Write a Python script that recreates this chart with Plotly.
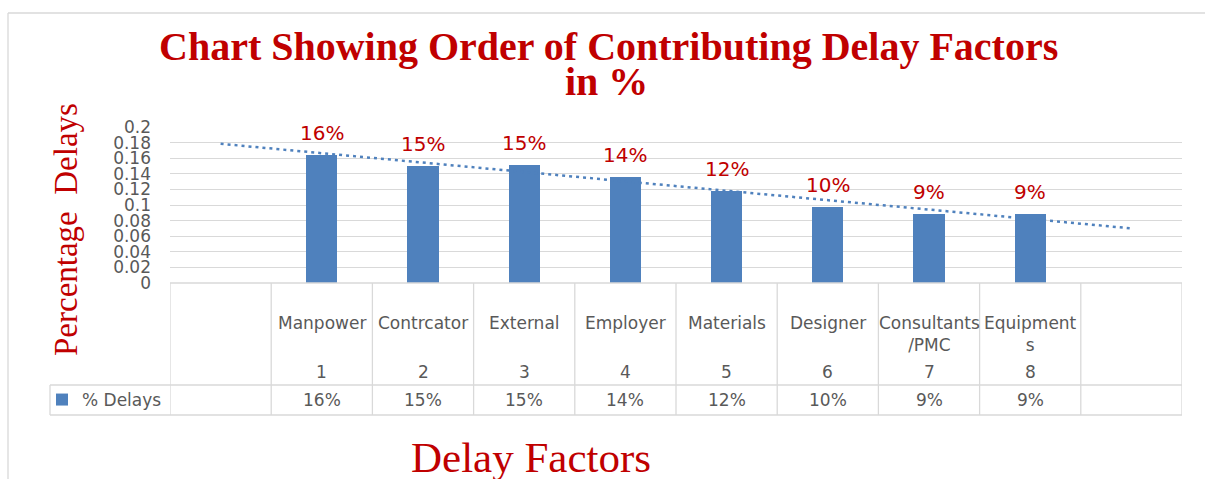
import numpy as np
import plotly.graph_objects as go

# ---------------- data ----------------
categories = ["Manpower", "Contrcator", "External", "Employer", "Materials",
              "Designer", "Consultants<br>/PMC", "Equipment<br>s"]
ranks = [1, 2, 3, 4, 5, 6, 7, 8]
delays = [0.164, 0.150, 0.151, 0.136, 0.118, 0.098, 0.088, 0.089]
y_tick_vals = [0, 0.02, 0.04, 0.06, 0.08, 0.10, 0.12, 0.14, 0.16, 0.18, 0.20]
y_tick_text = ["0", "0.02", "0.04", "0.06", "0.08", "0.1", "0.12", "0.14", "0.16", "0.18", "0.2"]
series_name = "% Delays"
title_lines = ["Chart Showing Order of Contributing Delay Factors", "in %"]
x_title = "Delay Factors"
y_title = "Percentage\u00a0 Delays"

# ---------------- style ----------------
W, H = 1205, 479
L, R, T, B = 170, 23, 127, 196
PW, PH = W - L - R, H - T - B
BAR = "#4F81BD"
RED = "#C00000"
GRAY_TXT = "#595959"
GRID = "#D9D9D9"
SANS = "DejaVu Sans"
SERIF = "Liberation Serif"


def px(x):
    return (x - L) / PW


def py(y):
    return (H - B - y) / PH


value_labels = [f"{v:.0%}" for v in delays]

# linear trendline, forecast one period backward and forward
slope, intercept = np.polyfit(ranks, delays, 1)
trend_x = [min(ranks) - 1, max(ranks) + 1]
trend_y = [slope * x + intercept for x in trend_x]

fig = go.Figure()
fig.add_trace(go.Bar(
    x=ranks, y=delays, name=series_name, width=0.31,
    marker=dict(color=BAR, line=dict(width=0)),
    showlegend=True,
))
fig.add_trace(go.Scatter(
    x=trend_x, y=trend_y, mode="lines", showlegend=False,
    line=dict(color=BAR, width=2.5, dash="3px,4px"),
    hoverinfo="skip",
))

shapes = []
line_style = dict(color=GRID, width=1.3)
# chart frame
shapes.append(dict(type="line", xref="paper", yref="paper", x0=px(8), x1=px(W), y0=py(13), y1=py(13), line=line_style))
shapes.append(dict(type="line", xref="paper", yref="paper", x0=px(8), x1=px(8), y0=py(13), y1=py(H), line=line_style))
# data table
n_cols = len(ranks) + 2
for k in range(n_cols + 1):
    shapes.append(dict(type="line", xref="x", yref="paper", x0=k - 0.5, x1=k - 0.5,
                       y0=py(283), y1=py(415), line=line_style))
shapes.append(dict(type="line", xref="paper", yref="paper", x0=0, x1=1, y0=py(283), y1=py(283), line=line_style))
for yy in (385, 415):
    shapes.append(dict(type="line", xref="paper", yref="paper", x0=px(50), x1=1, y0=py(yy), y1=py(yy), line=line_style))
shapes.append(dict(type="line", xref="paper", yref="paper", x0=px(50), x1=px(50), y0=py(385), y1=py(415), line=line_style))

ann = []
tfont = dict(family=SANS, size=17, color=GRAY_TXT)
for r, c, v, lab in zip(ranks, categories, delays, value_labels):
    ann.append(dict(x=r, y=py(311), xref="x", yref="paper", text=c, showarrow=False,
                    xanchor="center", yanchor="top", font=tfont))
    ann.append(dict(x=r, y=py(372), xref="x", yref="paper", text=str(r), showarrow=False,
                    xanchor="center", yanchor="middle", font=tfont))
    ann.append(dict(x=r, y=py(400), xref="x", yref="paper", text=lab, showarrow=False,
                    xanchor="center", yanchor="middle", font=tfont))
    ann.append(dict(x=r, y=v, xref="x", yref="y", text=lab, showarrow=False,
                    xanchor="center", yanchor="middle", yshift=22,
                    font=dict(family=SANS, size=20, color=RED)))

# titles
ann.append(dict(x=px(608), y=py(46), xref="paper", yref="paper", text="<b>" + title_lines[0] + "</b>",
                showarrow=False, xanchor="center", yanchor="middle",
                font=dict(family=SERIF, size=40, color=RED)))
ann.append(dict(x=px(606), y=py(82), xref="paper", yref="paper", text="<b>" + title_lines[1] + "</b>",
                showarrow=False, xanchor="center", yanchor="middle",
                font=dict(family=SERIF, size=40, color=RED)))
ann.append(dict(x=px(531), y=py(457), xref="paper", yref="paper", text=x_title,
                showarrow=False, xanchor="center", yanchor="middle",
                font=dict(family=SERIF, size=43, color=RED)))
ann.append(dict(x=px(66), y=py(230), xref="paper", yref="paper", text=y_title, textangle=-90,
                showarrow=False, xanchor="center", yanchor="middle",
                font=dict(family=SERIF, size=33, color=RED)))

fig.update_layout(
    width=W, height=H,
    margin=dict(l=L, r=R, t=T, b=B, pad=0),
    paper_bgcolor="white", plot_bgcolor="white",
    shapes=shapes, annotations=ann,
    showlegend=True,
    legend=dict(x=px(42), y=py(400), xanchor="left", yanchor="middle",
                font=dict(family=SANS, size=17, color=GRAY_TXT),
                bgcolor="rgba(0,0,0,0)", borderwidth=0),
    xaxis=dict(range=[-0.5, n_cols - 0.5], showticklabels=False, showgrid=False,
               zeroline=False, showline=False, ticks=""),
    yaxis=dict(range=[0, 0.2], tickvals=y_tick_vals, ticktext=y_tick_text,
               showgrid=True, gridcolor=GRID, gridwidth=1.3, zeroline=False,
               showline=False, ticks="", ticklabelstandoff=18,
               tickfont=dict(family=SANS, size=17, color=GRAY_TXT)),
    bargap=0,
)

fig.write_html("out.html")
